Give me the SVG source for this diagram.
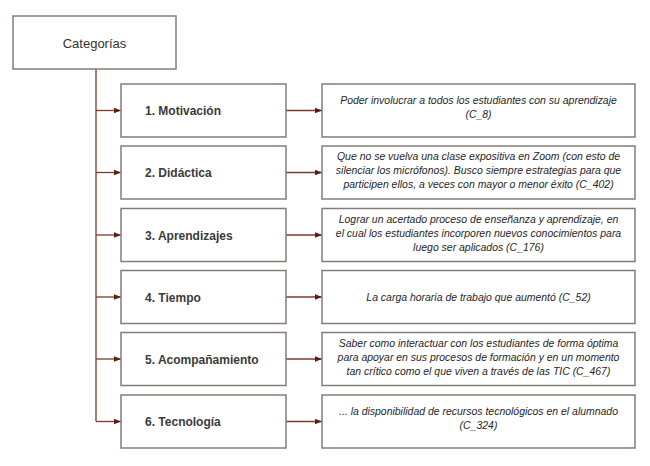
<svg xmlns="http://www.w3.org/2000/svg" width="650" height="466" viewBox="0 0 650 466">
<defs>
<style>
.box{fill:#fff;stroke:#857c77;stroke-width:1.5}
.con{fill:none;stroke:#7a3a2c;stroke-width:1.3}
.root{font-family:"Liberation Sans",Arial,sans-serif;font-size:13px;fill:#333;text-anchor:middle}
.cat{font-family:"Liberation Sans",Arial,sans-serif;font-size:12px;font-weight:bold;fill:#3a3a3a}
.q{font-family:"Liberation Sans",Arial,sans-serif;font-size:11.5px;font-style:italic;fill:#262626;text-anchor:middle}
</style>
<marker id="ah" viewBox="0 0 10 10" refX="10" refY="5" markerWidth="7" markerHeight="7" markerUnits="userSpaceOnUse" orient="auto">
<path d="M0,1 L10,5 L0,9 z" fill="#5a1e14"/>
</marker>
</defs>
<rect width="650" height="466" fill="#fff"/>
<g id="connectors">
<path class="con" d="M96,69 V421.5"/>
<path class="con" d="M96,110.5 H121" marker-end="url(#ah)"/>
<path class="con" d="M96,172.5 H121" marker-end="url(#ah)"/>
<path class="con" d="M96,235 H121" marker-end="url(#ah)"/>
<path class="con" d="M96,297 H121" marker-end="url(#ah)"/>
<path class="con" d="M96,359 H121" marker-end="url(#ah)"/>
<path class="con" d="M96,421.5 H121" marker-end="url(#ah)"/>
<path class="con" d="M286,110.5 H322" marker-end="url(#ah)"/>
<path class="con" d="M286,172.5 H322" marker-end="url(#ah)"/>
<path class="con" d="M286,235 H322" marker-end="url(#ah)"/>
<path class="con" d="M286,297 H322" marker-end="url(#ah)"/>
<path class="con" d="M286,359 H322" marker-end="url(#ah)"/>
<path class="con" d="M286,421.5 H322" marker-end="url(#ah)"/>
</g>
<g id="root">
<rect class="box" x="13" y="16" width="163" height="53"/>
<text class="root" x="94.5" y="47.5">Categorías</text>
</g>
<g id="cat1"><rect class="box" x="121" y="84" width="165" height="53"/><text class="cat" x="145" y="115">1. Motivación</text></g>
<g id="cat2"><rect class="box" x="121" y="146" width="165" height="53"/><text class="cat" x="145" y="177">2. Didáctica</text></g>
<g id="cat3"><rect class="box" x="121" y="208.5" width="165" height="53"/><text class="cat" x="145" y="239.5">3. Aprendizajes</text></g>
<g id="cat4"><rect class="box" x="121" y="270.5" width="165" height="53"/><text class="cat" x="145" y="301.5">4. Tiempo</text></g>
<g id="cat5"><rect class="box" x="121" y="332.5" width="165" height="53"/><text class="cat" x="145" y="363.5">5. Acompañamiento</text></g>
<g id="cat6"><rect class="box" x="121" y="395" width="165" height="53"/><text class="cat" x="145" y="426">6. Tecnología</text></g>
<g id="q1"><rect class="box" x="322" y="84" width="313" height="53"/>
<g transform="translate(478.5 0) scale(0.91 1)">
<text class="q" x="0" y="104">Poder involucrar a todos los estudiantes con su aprendizaje</text>
<text class="q" x="0" y="118">(C_8)</text></g></g>
<g id="q2"><rect class="box" x="322" y="146" width="313" height="53"/>
<g transform="translate(478.5 0) scale(0.91 1)">
<text class="q" x="0" y="160.5">Que no se vuelva una clase expositiva en Zoom (con esto de</text>
<text class="q" x="0" y="174.5">silenciar los micrófonos). Busco siempre estrategias para que</text>
<text class="q" x="0" y="188.5">participen ellos, a veces con mayor o menor éxito (C_402)</text></g></g>
<g id="q3"><rect class="box" x="322" y="208.5" width="313" height="53"/>
<g transform="translate(478.5 0) scale(0.91 1)">
<text class="q" x="0" y="223">Lograr un acertado proceso de enseñanza y aprendizaje, en</text>
<text class="q" x="0" y="237">el cual los estudiantes incorporen nuevos conocimientos para</text>
<text class="q" x="0" y="251">luego ser aplicados (C_176)</text></g></g>
<g id="q4"><rect class="box" x="322" y="270.5" width="313" height="53"/>
<g transform="translate(478.5 0) scale(0.91 1)">
<text class="q" x="0" y="301">La carga horaria de trabajo que aumentó (C_52)</text></g></g>
<g id="q5"><rect class="box" x="322" y="332.5" width="313" height="53"/>
<g transform="translate(478.5 0) scale(0.91 1)">
<text class="q" x="0" y="347">Saber como interactuar con los estudiantes de forma óptima</text>
<text class="q" x="0" y="361">para apoyar en sus procesos de formación y en un momento</text>
<text class="q" x="0" y="375">tan crítico como el que viven a través de las TIC (C_467)</text></g></g>
<g id="q6"><rect class="box" x="322" y="395" width="313" height="53"/>
<g transform="translate(478.5 0) scale(0.91 1)">
<text class="q" x="0" y="415">... la disponibilidad de recursos tecnológicos en el alumnado</text>
<text class="q" x="0" y="429">(C_324)</text></g></g>
</svg>
